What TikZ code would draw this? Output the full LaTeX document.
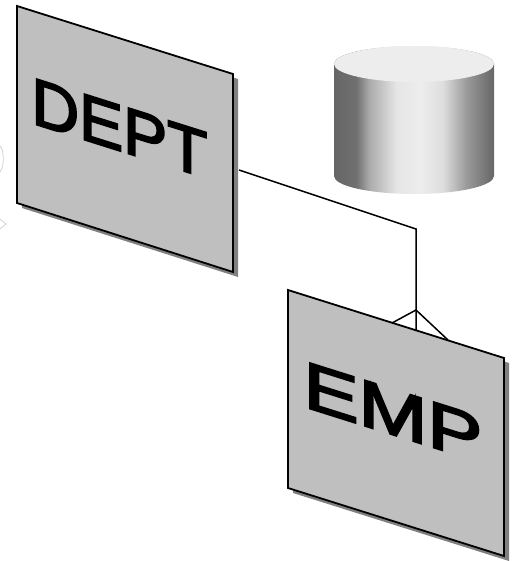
\documentclass[tikz,border=0pt]{standalone}
\usepackage{fontspec}
\setmainfont{Liberation Sans}
\newfontfamily\panelfont{Liberation Sans}[RawFeature={embolden=3}]
\pgfdeclarehorizontalshading{drumshade}{100bp}{
    color(0bp)=(black!60); color(25bp)=(black!60); color(32bp)=(black!56);
    color(36bp)=(black!33); color(44.5bp)=(black!10); color(52bp)=(black!7);
    color(59bp)=(black!13); color(66.5bp)=(black!40); color(75bp)=(black!60); color(100bp)=(black!60)}
\tikzset{
    panel/.style={fill=black!25,draw=black,line width=1.8pt,line join=miter},
    panelshadow/.style={fill=black!50},
    panellabel/.style={font=\fontsize{66}{66}\panelfont,yslant=-0.315,inner sep=0pt},
    link/.style={draw=black,line width=1.5pt},
    ghost/.style={draw=black!20,line width=0.7pt}
}
\begin{document}
\begin{tikzpicture}[x=1pt,y=-1pt]
                        \useasboundingbox (0,0) rectangle (511,561);
                        % cut off marks at the left edge
                        \draw[ghost] (0,172) arc[start angle=70,end angle=-70,x radius=5,y radius=14];
                        \draw[ghost] (0,219) -- (6,224) -- (0,229);
                        % drum
                        \shade[shading=drumshade] (334,64) -- (334,176) arc[start angle=180,end angle=0,x radius=80,y radius=18] -- (494,64) arc[start angle=0,end angle=-180,x radius=80,y radius=18] -- cycle;
                        \fill[black!7] (414,64) ellipse[x radius=80,y radius=18];
                        % panels
                        \fill[panelshadow] (22,11) -- (238,79) -- (238,277) -- (22,208) -- cycle;
                        \draw[panel] (17,6) -- (233,74) -- (233,272) -- (17,203) -- cycle;
                        \node[panellabel] (dept) at (119.5,128) {DEPT};
                        \fill[panelshadow] (293,295) -- (509,363) -- (509,561) -- (293,493) -- cycle;
                        \draw[panel] (288,290) -- (504,358) -- (504,556) -- (288,488) -- cycle;
                        \node[panellabel,xscale=1.25] (emp) at (393,412) {EMP};
                        % link with crow foot
                        \coordinate (deptend) at (239,170);
                        \coordinate (bend) at (416,229);
                        \coordinate (foot) at (416,310);
                        \coordinate (empmid) at (416,331);
                        \coordinate (empleft) at (392,323);
                        \coordinate (empright) at (448,340);
                        \draw[link] (deptend) -- (bend) -- (empmid);
                        \draw[link] (empleft) -- (foot) -- (empright);
                    \end{tikzpicture}
\end{document}
